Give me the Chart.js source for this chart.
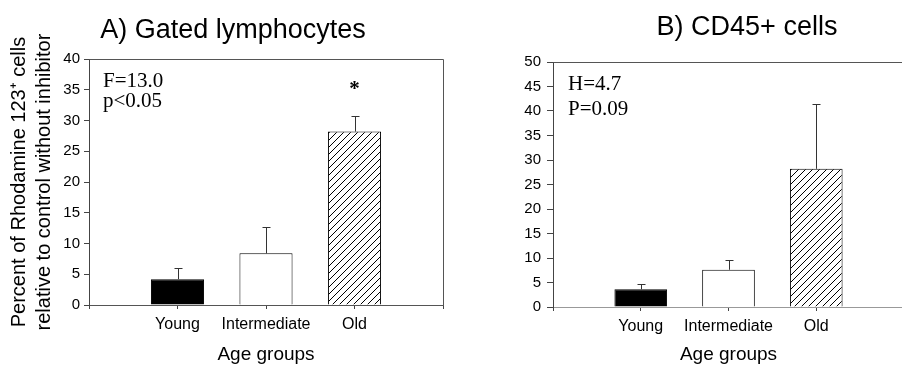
<!DOCTYPE html>
<html>
<head>
<meta charset="utf-8">
<script src="https://cdn.jsdelivr.net/npm/chart.js@4.4.1/dist/chart.umd.min.js"></script>
<style>
  html, body { margin: 0; padding: 0; background: #fff; overflow: hidden; width: 902px; height: 366px; }
  #wrapA { position: absolute; left: 0; top: 0; width: 450px; height: 366px; }
  #wrapB { position: absolute; left: 450px; top: 0; width: 460px; height: 366px; }
</style>
</head>
<body>
<div id="wrapA"><canvas id="chartA" width="450" height="366"></canvas></div>
<div id="wrapB"><canvas id="chartB" width="460" height="366"></canvas></div>
<script>
// Age groups on the x axis
const categories = ['Young', 'Intermediate', 'Old'];

// A) Gated lymphocytes: group means and upper error (SEM)
const gatedMeans = [4.2, 8.4, 28.2];
const gatedErrors = [1.8, 4.3, 2.5];

// B) CD45+ cells: group means and upper error (SEM)
const cd45Means = [3.6, 7.6, 28.2];
const cd45Errors = [1.0, 1.9, 13.2];

const yTitleLines = ['Percent of Rhodamine 123\u207A cells', 'relative to control without inhibitor'];
const gatedStats = ['F=13.0', 'p<0.05'];
const cd45Stats = ['H=4.7', 'P=0.09'];

const SANS = '"Liberation Sans", Arial, sans-serif';
const SERIF = '"Liberation Serif", "Times New Roman", serif';

// Diagonal "/" hatching used for the Old group
function hatchPattern() {
  const s = 7;
  const c = document.createElement('canvas');
  c.width = s; c.height = s;
  const g = c.getContext('2d');
  g.fillStyle = '#fff';
  g.fillRect(0, 0, s, s);
  g.strokeStyle = '#000';
  g.lineWidth = 1;
  g.beginPath();
  g.moveTo(0, s); g.lineTo(s, 0);
  g.moveTo(-1, 1); g.lineTo(1, -1);
  g.moveTo(s - 1, s + 1); g.lineTo(s + 1, s - 1);
  g.stroke();
  return g.createPattern(c, 'repeat');
}

const barFills = ['#000', '#fff', hatchPattern()];

// Upper error whiskers with a short cap
const errorBars = {
  id: 'errorBars',
  afterDatasetsDraw(chart, args, opts) {
    const { ctx, scales: { x, y } } = chart;
    const data = chart.data.datasets[0].data;
    ctx.save();
    ctx.strokeStyle = opts.color;
    ctx.lineWidth = 1;
    data.forEach((pt, i) => {
      const px = Math.round(x.getPixelForValue(pt.x)) + 0.5;
      const y0 = y.getPixelForValue(pt.y);
      const y1 = Math.round(y.getPixelForValue(pt.y + opts.errors[i])) + 0.5;
      ctx.beginPath();
      ctx.moveTo(px, y0);
      ctx.lineTo(px, y1);
      ctx.moveTo(px - opts.cap, y1);
      ctx.lineTo(px + opts.cap, y1);
      ctx.stroke();
    });
    ctx.restore();
  }
};

// Top and right edges of the plot frame
const frame = {
  id: 'frame',
  afterDraw(chart, args, opts) {
    const { ctx, chartArea: a } = chart;
    ctx.save();
    ctx.strokeStyle = opts.color;
    ctx.lineWidth = 1;
    ctx.beginPath();
    ctx.moveTo(Math.round(a.left) + 0.5, Math.round(a.top) + 0.5);
    ctx.lineTo(Math.round(a.right) + 0.5, Math.round(a.top) + 0.5);
    ctx.lineTo(Math.round(a.right) + 0.5, Math.round(a.bottom) + 0.5);
    ctx.stroke();
    ctx.restore();
  }
};

// Panel heading, statistics text and significance marker
const panelText = {
  id: 'panelText',
  afterDraw(chart, args, opts) {
    const { ctx, chartArea: a, scales: { x, y } } = chart;
    ctx.save();
    ctx.fillStyle = '#000';
    ctx.font = '27px ' + SANS;
    ctx.textAlign = 'center';
    ctx.textBaseline = 'alphabetic';
    ctx.fillText(opts.title, opts.titleX, opts.titleY);

    ctx.font = '21px ' + SERIF;
    ctx.textAlign = 'left';
    opts.stats.forEach((line, i) => {
      ctx.fillText(line, a.left + opts.statsDx, opts.statsY + i * opts.statsGap);
    });

    if (opts.starIndex != null) {
      const data = chart.data.datasets[0].data;
      const pt = data[opts.starIndex];
      const top = y.getPixelForValue(pt.y + opts.errors[opts.starIndex]);
      ctx.font = 'bold 21px ' + SERIF;
      ctx.textAlign = 'center';
      ctx.fillText('*', x.getPixelForValue(pt.x), top - 21);
    }
    ctx.restore();
  }
};

function makeChart(id, cfg) {
  const points = cfg.means.map((v, i) => ({ x: i + 1, y: v }));
  return new Chart(document.getElementById(id), {
    type: 'bar',
    data: {
      datasets: [{
        data: points,
        backgroundColor: barFills,
        borderColor: '#000',
        borderWidth: 1,
        barPercentage: 0.6,
        categoryPercentage: 1
      }]
    },
    plugins: [errorBars, frame, panelText],
    options: {
      responsive: false,
      animation: false,
      devicePixelRatio: 1,
      layout: { padding: cfg.padding },
      plugins: {
        legend: { display: false },
        tooltip: { enabled: false },
        title: { display: false },
        errorBars: { errors: cfg.errors, cap: 4, color: '#333' },
        frame: { color: '#555' },
        panelText: {
          title: cfg.title, titleX: cfg.titleX, titleY: cfg.titleY,
          stats: cfg.stats, statsDx: cfg.statsDx, statsY: cfg.statsY, statsGap: cfg.statsGap,
          starIndex: cfg.starIndex, errors: cfg.errors
        }
      },
      scales: {
        x: {
          type: 'linear',
          min: 0,
          max: categories.length + 1,
          offset: false,
          afterFit(s) { s.height = cfg.xHeight; },
          grid: { display: true, drawOnChartArea: false, drawTicks: true, tickLength: 4, color: '#444', offset: false },
          border: { display: true, color: cfg.xBorder, width: 1 },
          ticks: {
            stepSize: 1, autoSkip: false, maxRotation: 0, minRotation: 0, padding: 6,
            color: '#000', font: { family: SANS, size: 16 },
            callback: v => categories[v - 1] || ''
          },
          title: { display: true, text: 'Age groups', color: '#000', font: { family: SANS, size: 19 }, padding: { top: 0, bottom: 0 } }
        },
        y: {
          min: 0,
          max: cfg.yMax,
          afterFit(s) { s.width = cfg.yWidth; },
          grid: { display: true, drawOnChartArea: false, drawTicks: true, tickLength: cfg.yTick, color: '#444' },
          border: { display: true, color: '#444', width: 1, dash: cfg.yDash },
          ticks: { stepSize: 5, padding: cfg.yPad, color: '#000', font: { family: SANS, size: 15 } },
          title: cfg.yTitle
            ? { display: true, text: cfg.yTitle, color: '#000', font: { family: SANS, size: 20, lineHeight: 25 / 20 }, padding: { top: 7, bottom: 0 } }
            : { display: false }
        }
      }
    }
  });
}

makeChart('chartA', {
  means: gatedMeans, errors: gatedErrors, stats: gatedStats,
  title: 'A) Gated lymphocytes', titleX: 233, titleY: 38,
  statsDx: 14, statsY: 87, statsGap: 20, starIndex: 2,
  padding: { left: 0, top: 59, right: 7, bottom: 0 },
  xHeight: 61, yWidth: 89, yMax: 40, yTick: 5, yPad: 4, yDash: [],
  xBorder: '#555', yTitle: yTitleLines
});

makeChart('chartB', {
  means: cd45Means, errors: cd45Errors, stats: cd45Stats,
  title: 'B) CD45+ cells', titleX: 297, titleY: 35,
  statsDx: 15, statsY: 90, statsGap: 25, starIndex: null,
  padding: { left: 0, top: 62, right: 3, bottom: 0 },
  xHeight: 59, yWidth: 103, yMax: 50, yTick: 6, yPad: 6, yDash: [3, 2],
  xBorder: '#999', yTitle: null
});
</script>
</body>
</html>
